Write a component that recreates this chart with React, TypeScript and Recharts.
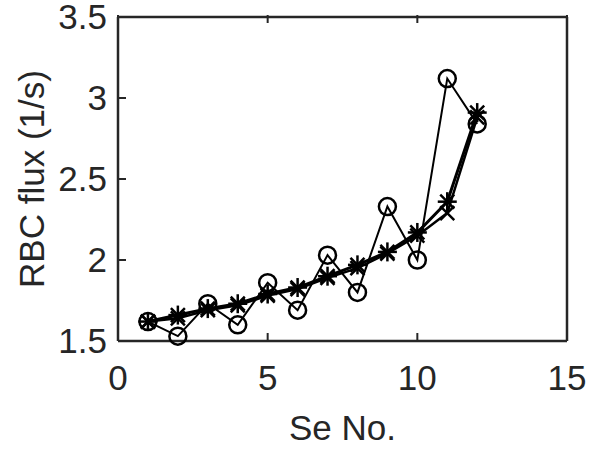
import { Line, LineChart, XAxis, YAxis } from "recharts";

const seNo = [1, 2, 3, 4, 5, 6, 7, 8, 9, 10, 11, 12];
const circleFlux = [1.62, 1.53, 1.73, 1.6, 1.86, 1.69, 2.03, 1.8, 2.33, 2.0, 3.12, 2.84];
const starFlux = [1.62, 1.66, 1.7, 1.73, 1.79, 1.83, 1.9, 1.97, 2.05, 2.17, 2.36, 2.91];
const crossFlux = [1.62, 1.64, 1.69, 1.72, 1.78, 1.82, 1.89, 1.95, 2.04, 2.15, 2.29, 2.88];

const xTicks = [0, 5, 10, 15];
const yTicks = [1.5, 2, 2.5, 3, 3.5];

const data = seNo.map((se, i) => ({
  se,
  circle: circleFlux[i],
  star: starFlux[i],
  cross: crossFlux[i],
}));

const INK = "#262626";
const FONT = "'Liberation Sans', Arial, sans-serif";
const FONT_SIZE = 35;
const TICK_LEN = 8;
const X_MARGIN = 24;
const Y_MARGIN = 11;

function BottomTick(props: any) {
  const { x, y, payload } = props;
  const axisY = y - X_MARGIN;
  return (
    <g>
      <line x1={x} y1={axisY} x2={x} y2={axisY - TICK_LEN} stroke={INK} strokeWidth={2} />
      <text x={x} y={y} dy="0.71em" textAnchor="middle" fill={INK} fontSize={FONT_SIZE} fontFamily={FONT}>
        {payload.value}
      </text>
    </g>
  );
}

function LeftTick(props: any) {
  const { x, y, payload } = props;
  const axisX = x + Y_MARGIN;
  return (
    <g>
      <line x1={axisX} y1={y} x2={axisX + TICK_LEN} y2={y} stroke={INK} strokeWidth={2} />
      <text x={x} y={y} dy="0.355em" textAnchor="end" fill={INK} fontSize={FONT_SIZE} fontFamily={FONT}>
        {payload.value}
      </text>
    </g>
  );
}

function TopTick(props: any) {
  const { x, y } = props;
  return <line x1={x} y1={y} x2={x} y2={y + TICK_LEN} stroke={INK} strokeWidth={2} />;
}

function RightTick(props: any) {
  const { x, y } = props;
  return <line x1={x} y1={y} x2={x - TICK_LEN} y2={y} stroke={INK} strokeWidth={2} />;
}

function CircleDot(props: any) {
  const { cx, cy, index } = props;
  return <circle key={`c-${index}`} cx={cx} cy={cy} r={8.5} fill="none" stroke="#000" strokeWidth={2.5} />;
}

function StarDot(props: any) {
  const { cx, cy, index } = props;
  const r = 9.5;
  const d = 7;
  return (
    <g key={`s-${index}`} stroke="#000" strokeWidth={2.5}>
      <line x1={cx - r} y1={cy} x2={cx + r} y2={cy} />
      <line x1={cx} y1={cy - r} x2={cx} y2={cy + r} />
      <line x1={cx - d} y1={cy - d} x2={cx + d} y2={cy + d} />
      <line x1={cx - d} y1={cy + d} x2={cx + d} y2={cy - d} />
    </g>
  );
}

function CrossDot(props: any) {
  const { cx, cy, index } = props;
  const d = 7;
  return (
    <g key={`x-${index}`} stroke="#000" strokeWidth={2.5}>
      <line x1={cx - d} y1={cy - d} x2={cx + d} y2={cy + d} />
      <line x1={cx - d} y1={cy + d} x2={cx + d} y2={cy - d} />
    </g>
  );
}

export default function App() {
  return (
    <div style={{ position: "absolute", left: 0, top: 0, background: "#fff" }}>
      <LineChart
        width={589}
        height={449}
        data={data}
        margin={{ top: 16, right: 21, left: 0, bottom: 0 }}
      >
        <XAxis
          dataKey="se"
          type="number"
          domain={[0, 15]}
          ticks={xTicks}
          height={108}
          tickSize={0}
          tickMargin={X_MARGIN}
          tickLine={false}
          tick={<BottomTick />}
          axisLine={{ stroke: INK, strokeWidth: 2.5 }}
          label={{
            value: "Se No.",
            position: "insideBottom",
            offset: 9,
            fill: INK,
            fontSize: FONT_SIZE,
            fontFamily: FONT,
          }}
        />
        <XAxis
          xAxisId="top"
          orientation="top"
          dataKey="se"
          type="number"
          domain={[0, 15]}
          ticks={xTicks}
          height={1}
          tickSize={0}
          tickLine={false}
          tick={<TopTick />}
          axisLine={{ stroke: INK, strokeWidth: 2.5 }}
        />
        <YAxis
          type="number"
          domain={[1.5, 3.5]}
          ticks={yTicks}
          width={118}
          tickSize={0}
          tickMargin={Y_MARGIN}
          tickLine={false}
          tick={<LeftTick />}
          axisLine={{ stroke: INK, strokeWidth: 2.5 }}
          label={{
            value: "RBC flux (1/s)",
            angle: -90,
            position: "insideLeft",
            offset: 32,
            fill: INK,
            fontSize: FONT_SIZE,
            fontFamily: FONT,
            style: { textAnchor: "middle" },
          }}
        />
        <YAxis
          yAxisId="right"
          orientation="right"
          type="number"
          domain={[1.5, 3.5]}
          ticks={yTicks}
          width={1}
          tickSize={0}
          tickLine={false}
          tick={<RightTick />}
          axisLine={{ stroke: INK, strokeWidth: 2.5 }}
        />
        <Line
          dataKey="circle"
          stroke="#000"
          strokeWidth={2}
          dot={CircleDot}
          isAnimationActive={false}
        />
        <Line
          dataKey="cross"
          stroke="#000"
          strokeWidth={2.5}
          dot={CrossDot}
          isAnimationActive={false}
        />
        <Line
          dataKey="star"
          stroke="#000"
          strokeWidth={3}
          dot={StarDot}
          isAnimationActive={false}
        />
      </LineChart>
    </div>
  );
}
